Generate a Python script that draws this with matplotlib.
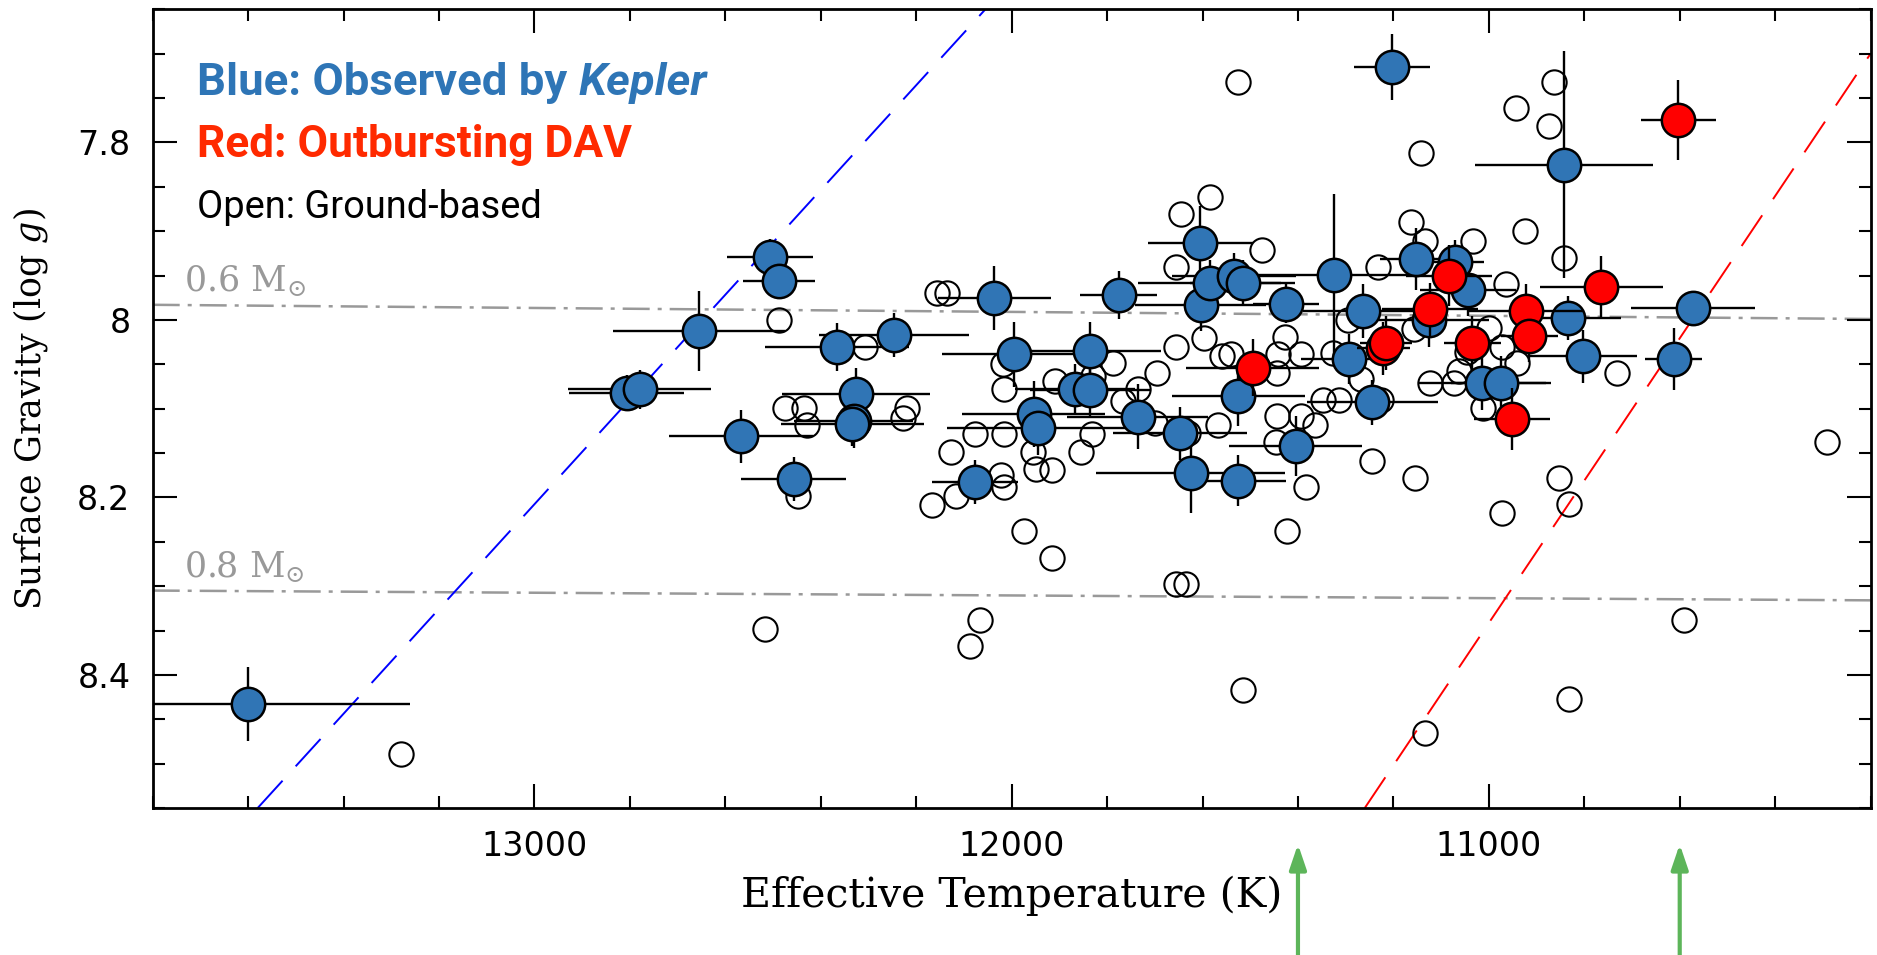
import numpy as np
import matplotlib.pyplot as plt

# Kepler DAVs (blue), outbursting DAVs (red), ground-based DAVs (open)
blue_teff = [13600, 12807, 12779, 12656, 12567, 12507, 12487, 12457, 12366, 12326,
             12331, 12334, 12246, 12076, 12036, 11995, 11954, 11945, 11867, 11836,
             11836, 11776, 11736, 11647, 11625, 11605, 11604, 11585, 11534, 11516,
             11525, 11525, 11425, 11405, 11325, 11294, 11264, 11244, 11203, 11153,
             11071, 11125, 11044, 11014, 10974, 10843, 10834, 10802, 10613, 10572]
blue_logg = [8.433, 8.082, 8.078, 8.013, 8.131, 7.929, 7.956, 8.179, 8.031, 8.084,
             8.114, 8.117, 8.017, 8.183, 7.975, 8.039, 8.106, 8.122, 8.078, 8.035,
             8.079, 7.972, 8.109, 8.128, 8.172, 7.913, 7.983, 7.958, 7.950, 7.958,
             8.086, 8.181, 7.982, 8.142, 7.949, 8.044, 7.990, 8.093, 7.715, 7.931,
             7.935, 8.000, 7.966, 8.071, 8.071, 7.825, 7.998, 8.041, 8.044, 7.987]
blue_teff_err = [340, 120, 150, 180, 150, 90, 75, 110, 150, 155,
                 125, 150, 157, 90, 119, 150, 150, 190, 125, 150,
                 125, 80, 147, 140, 198, 110, 137, 150, 130, 110,
                 140, 100, 70, 140, 165, 100, 125, 138, 80, 75,
                 60, 125, 100, 133, 105, 186, 110, 113, 60, 130]
blue_logg_err = [0.042, 0.02, 0.022, 0.045, 0.03, 0.02, 0.015, 0.025, 0.027, 0.03,
                 0.03, 0.025, 0.025, 0.025, 0.036, 0.037, 0.037, 0.03, 0.028, 0.033,
                 0.03, 0.027, 0.037, 0.03, 0.046, 0.041, 0.03, 0.025, 0.025, 0.025,
                 0.034, 0.029, 0.022, 0.034, 0.091, 0.028, 0.03, 0.025, 0.037, 0.035,
                 0.025, 0.03, 0.03, 0.03, 0.03, 0.128, 0.025, 0.03, 0.035, 0.02]

red_teff = [11495, 11221, 11216, 11123, 11083, 11035, 10952, 10922, 10915, 10764, 10603]
red_logg = [8.054, 8.032, 8.026, 7.988, 7.950, 8.026, 8.112, 7.990, 8.018, 7.963, 7.775]
red_teff_err = [140, 55, 55, 100, 90, 60, 80, 120, 60, 128, 78]
red_logg_err = [0.032, 0.03, 0.03, 0.03, 0.034, 0.03, 0.035, 0.03, 0.03, 0.035, 0.045]

open_teff = [13280, 12487, 12308, 12476, 12436, 12428, 12448, 12516, 12219, 12228,
             12156, 12135, 12019, 12015, 11910, 11830, 11788, 11695, 11736, 11767,
             12077, 12015, 12127, 11956, 11832, 11855, 11949, 11916, 12022, 12015,
             12117, 12166, 11975, 11916, 11655, 11635, 12066, 12087, 11515, 11585,
             11645, 11655, 11596, 11655, 11567, 11630, 11700, 11560, 11525, 11476,
             11233, 11427, 11540, 11441, 11393, 11443, 11327, 11295, 11156, 11000,
             10973, 10941, 11046, 11063, 11123, 11074, 11267, 11347, 11315, 11225,
             11443, 11393, 11365, 11445, 11013, 11244, 11155, 11384, 10973, 11424,
             10854, 10833, 11163, 11134, 11034, 10925, 10843, 10964, 10864, 10944,
             10873, 11143, 10732, 10292, 10592, 10833, 11134]
open_logg = [8.489, 8.000, 8.030, 8.099, 8.099, 8.119, 8.199, 8.348, 8.099, 8.110,
             7.970, 7.970, 8.050, 8.078, 8.069, 8.063, 8.049, 8.060, 8.078, 8.091,
             8.129, 8.129, 8.149, 8.149, 8.129, 8.149, 8.168, 8.169, 8.175, 8.188,
             8.199, 8.209, 8.238, 8.268, 8.298, 8.298, 8.338, 8.367, 8.417, 7.861,
             7.881, 7.940, 8.020, 8.030, 8.119, 8.127, 8.116, 8.041, 7.732, 7.921,
             7.940, 8.019, 8.039, 8.039, 8.039, 8.060, 8.037, 8.000, 8.010, 8.009,
             8.030, 8.049, 8.036, 8.058, 8.071, 8.071, 8.067, 8.090, 8.090, 8.090,
             8.108, 8.108, 8.119, 8.138, 8.099, 8.159, 8.178, 8.188, 8.218, 8.238,
             8.178, 8.208, 7.890, 7.911, 7.911, 7.900, 7.930, 7.960, 7.732, 7.761,
             7.782, 7.812, 8.060, 8.138, 8.338, 8.427, 8.466]

# instability strip edges and mass tracks
blue_edge_teff = [13580, 12055]
blue_edge_logg = [8.55, 7.65]
red_edge_teff = [11260, 10200]
red_edge_logg = [8.55, 7.70]
track_teff = [13800, 10200]
track_06 = [7.983, 7.999]
track_08 = [8.305, 8.316]
arrow_teff = [11400, 10600]

kblue = '#3075B5'
kred = '#FF0000'

plt.rcParams['mathtext.fontset'] = 'dejavuserif'
fig = plt.figure(figsize=(18.77, 9.55), dpi=100)
ax = fig.add_axes([0.08135, 0.15393, 0.91524, 0.83636])

dashdot = (0, (10.8, 3.2, 1.6, 3.2))
ax.plot(track_teff, track_06, color='#999999', lw=1.8, ls=dashdot, zorder=1)
ax.plot(track_teff, track_08, color='#999999', lw=1.8, ls=dashdot, zorder=1)
ax.plot(blue_edge_teff, blue_edge_logg, color='#0000FF', lw=1.4, ls=(0, (19, 10)), zorder=1)
ax.plot(red_edge_teff, red_edge_logg, color='#FF0000', lw=1.4, ls=(0, (19, 10)), zorder=1)

ax.plot(open_teff, open_logg, 'o', ms=17.5, mfc='none', mec='black', mew=1.5, zorder=2)
ax.errorbar(blue_teff, blue_logg, xerr=blue_teff_err, yerr=blue_logg_err, fmt='o',
            ms=24, mfc=kblue, mec='black', mew=1.8, ecolor='black', elinewidth=1.7,
            capsize=0, zorder=3)
ax.errorbar(red_teff, red_logg, xerr=red_teff_err, yerr=red_logg_err, fmt='o',
            ms=24, mfc=kred, mec='black', mew=1.8, ecolor='black', elinewidth=1.7,
            capsize=0, zorder=4)

ax.text(13735, 7.977, r'0.6 $\mathrm{M}_{\odot}$', color='#999999', fontsize=25,
        family='DejaVu Serif', va='bottom', ha='left')
ax.text(13735, 8.299, r'0.8 $\mathrm{M}_{\odot}$', color='#999999', fontsize=25,
        family='DejaVu Serif', va='bottom', ha='left')

ax.set_xlim(13800, 10200)
ax.set_ylim(8.55, 7.65)
ax.set_xticks([13000, 12000, 11000])
ax.set_xticks(np.arange(10200, 13801, 200), minor=True)
ax.set_yticks([7.8, 8.0, 8.2, 8.4], labels=['7.8', '8', '8.2', '8.4'])
ax.set_yticks(np.arange(7.65, 8.551, 0.05), minor=True)
ax.tick_params(which='both', direction='in', top=True, right=True, width=1.5,
               labelsize=24, pad=16)
ax.tick_params(which='major', length=17)
ax.tick_params(which='minor', length=8.5)
for s in ax.spines.values():
    s.set_linewidth(2)

ax.set_xlabel('Effective Temperature (K)', family='DejaVu Serif', fontsize=29.5)
ax.xaxis.set_label_coords(0.5, -0.085)
ax.set_ylabel('Surface Gravity (log $g$)', family='DejaVu Serif', fontsize=25)
ax.yaxis.set_label_coords(-0.06, 0.5)

# key text, sized so each line spans the same width as in the original
t1 = fig.text(197 / 1877, 1 - 95 / 955, 'Blue: Observed by ', color='#2E75B6',
              family='Roboto', weight='bold', fontsize=30, va='baseline')
t2 = ax.annotate('Kepler', xy=(1, 0), xycoords=t1, va='bottom', ha='left',
                 color='#2E75B6', family='Roboto', weight='bold', style='italic',
                 fontsize=30, annotation_clip=False)
t3 = fig.text(197 / 1877, 1 - 157 / 955, 'Red: Outbursting DAV', color='#FF2A00',
              family='Roboto', weight='bold', fontsize=30, va='baseline')
t4 = fig.text(197 / 1877, 1 - 218 / 955, 'Open: Ground-based', color='black',
              family='Roboto', weight='normal', fontsize=30, va='baseline')

renderer = fig.canvas.get_renderer()
w12 = t1.get_window_extent(renderer).width + t2.get_window_extent(renderer).width
for t in (t1, t2):
    t.set_fontsize(30 * 509 / w12)
for t, target in ((t3, 434), (t4, 344)):
    t.set_fontsize(30 * target / t.get_window_extent(renderer).width)

for t in arrow_teff:
    ax.annotate('', xy=(t, 0.116), xytext=(t, -0.01),
                xycoords=('data', 'figure fraction'), textcoords=('data', 'figure fraction'),
                arrowprops=dict(arrowstyle='-|>,head_length=0.5,head_width=0.17',
                                color='#5DB55A', lw=3, mutation_scale=30, shrinkA=0, shrinkB=0),
                annotation_clip=False)

fig.savefig('out.png', dpi=100)
